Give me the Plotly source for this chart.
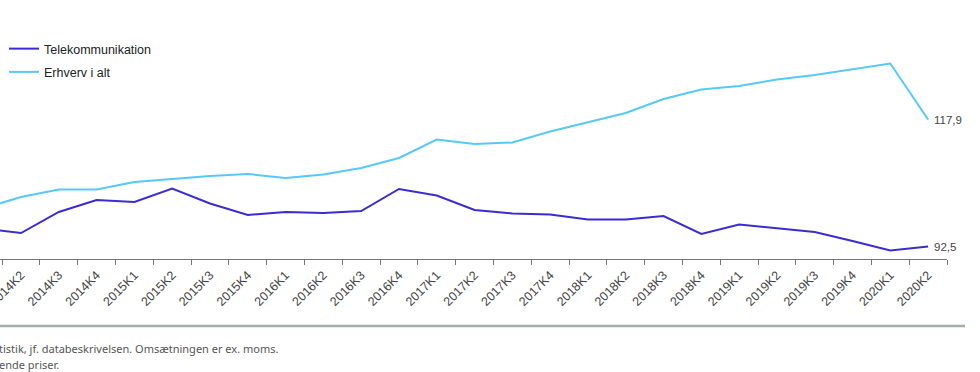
import plotly.graph_objects as go

categories = [
    "2014K1", "2014K2", "2014K3", "2014K4",
    "2015K1", "2015K2", "2015K3", "2015K4",
    "2016K1", "2016K2", "2016K3", "2016K4",
    "2017K1", "2017K2", "2017K3", "2017K4",
    "2018K1", "2018K2", "2018K3", "2018K4",
    "2019K1", "2019K2", "2019K3", "2019K4",
    "2020K1", "2020K2",
]
telekom = [96.1, 95.2, 99.4, 101.8, 101.4, 104.1, 101.1, 98.8,
           99.4, 99.2, 99.6, 104.0, 102.7, 99.8, 99.1, 98.9,
           97.9, 97.9, 98.6, 95.0, 96.9, 96.2, 95.4, 93.6,
           91.7, 92.5]
erhverv = [100.1, 102.4, 103.9, 103.9, 105.4, 106.0, 106.6, 107.0,
           106.2, 106.9, 108.2, 110.2, 113.9, 113.0, 113.3, 115.5,
           117.4, 119.2, 122.0, 123.9, 124.6, 125.9, 126.8, 127.9,
           129.1, 117.9]
series_names = ["Telekommunikation", "Erhverv i alt"]
end_labels = ["92,5", "117,9"]
footer_lines = [
    "tistik, jf. databeskrivelsen. Omsætningen er ex. moms.",
    "ende priser.",
]

colors = ["#3a2bd6", "#55c9f7"]

fig = go.Figure()
for name, vals, col in zip(series_names, [telekom, erhverv], colors):
    fig.add_trace(go.Scatter(
        x=categories, y=vals, mode="lines", name=name,
        legendgroup=name,
        line=dict(color=col, width=2),
        hoverinfo="x+y",
    ))

annotations = []
for vals, lab in zip([telekom, erhverv], end_labels):
    annotations.append(dict(
        x=categories[-1], y=vals[-1], xref="x", yref="y",
        text=lab, showarrow=False, xanchor="left", yanchor="middle",
        xshift=4, font=dict(family="Liberation Sans, Arial", size=11.5, color="#444"),
    ))

for i, line in enumerate(footer_lines):
    annotations.append(dict(
        x=0, y=-(349 + 15 * i - 259) / 250, xref="paper", yref="paper",
        text=line, showarrow=False, xanchor="left", yanchor="middle",
        xshift=-3,
        font=dict(family="Noto Sans", size=11, color="#555"),
    ))

fig.update_layout(
    width=980, height=372,
    margin=dict(l=0, r=33, t=9, b=113, autoexpand=False),
    paper_bgcolor="white", plot_bgcolor="white",
    showlegend=True,
    legend=dict(
        x=4 / 947, y=(259 - 34) / 250, xanchor="left", yanchor="top",
        font=dict(family="Liberation Sans, Arial", size=12.5, color="#222"),
        traceorder="grouped", tracegroupgap=4,
        bgcolor="rgba(0,0,0,0)",
    ),
    xaxis=dict(
        type="category",
        automargin=False,
        range=[0.444, 25.5],
        showgrid=False, zeroline=False,
        showline=True, linecolor="#777", linewidth=1,
        ticks="outside", ticklen=5, tickcolor="#777",
        tickson="boundaries",
        tickangle=-45,
        ticklabelstandoff=3,
        tickfont=dict(family="Liberation Sans, Arial", size=12.5, color="#444"),
    ),
    yaxis=dict(
        automargin=False,
        range=[90, 140],
        showgrid=False, zeroline=False, showline=False,
        showticklabels=False, ticks="",
    ),
    annotations=annotations,
    shapes=[dict(
        type="line", xref="paper", yref="paper",
        x0=0, x1=965 / 947, y0=-(326 - 259) / 250, y1=-(326 - 259) / 250,
        line=dict(color="#a5acac", width=2.5),
    )],
)

fig.write_html(
    "out.html",
    config={"displayModeBar": False},
    post_script="document.body.style.margin='0';document.body.style.overflow='hidden';",
)
